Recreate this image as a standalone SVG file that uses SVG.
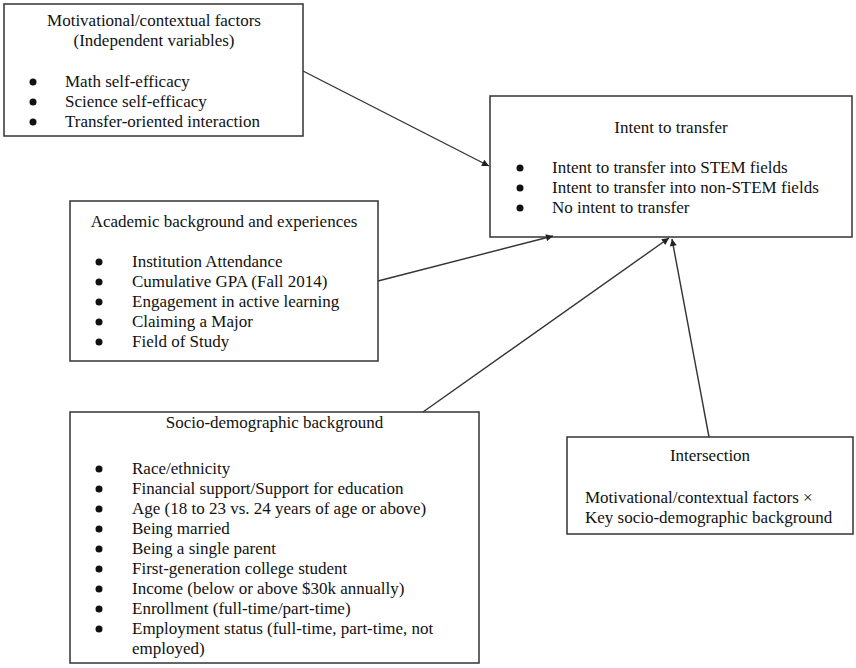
<svg xmlns="http://www.w3.org/2000/svg" width="856" height="668" viewBox="0 0 856 668">
<style>
.box{fill:#fff;stroke:#333;stroke-width:1.5}
text{font-family:"Liberation Serif","Times New Roman",serif;font-size:17px;fill:#111}
.c{text-anchor:middle}
.dot{fill:#111}
.conn{stroke:#333;stroke-width:1.4;fill:none;marker-end:url(#ah)}
</style>
<defs>
<marker id="ah" viewBox="0 0 10 10" refX="10" refY="5" markerWidth="9" markerHeight="7" markerUnits="userSpaceOnUse" orient="auto">
<path d="M0,0 L10,5 L0,10 z" fill="#222"/>
</marker>
</defs>
<rect width="856" height="668" fill="#fff"/>
<g id="motivational">
<rect class="box" x="4" y="4" width="299" height="132"/>
<text class="c" x="154" y="26">Motivational/contextual factors</text>
<text class="c" x="154" y="46">(Independent variables)</text>
<circle class="dot" cx="33" cy="82" r="3.5"/><text x="65" y="87">Math self-efficacy</text>
<circle class="dot" cx="33" cy="102" r="3.5"/><text x="65" y="107">Science self-efficacy</text>
<circle class="dot" cx="33" cy="122" r="3.5"/><text x="65" y="127">Transfer-oriented interaction</text>
</g>
<g id="intent">
<rect class="box" x="490" y="96" width="362" height="141"/>
<text class="c" x="671" y="133">Intent to transfer</text>
<circle class="dot" cx="520" cy="168" r="3.5"/><text x="552" y="173">Intent to transfer into STEM fields</text>
<circle class="dot" cx="520" cy="188" r="3.5"/><text x="552" y="193">Intent to transfer into non-STEM fields</text>
<circle class="dot" cx="520" cy="208" r="3.5"/><text x="552" y="213">No intent to transfer</text>
</g>
<g id="academic">
<rect class="box" x="70" y="201" width="308" height="160"/>
<text class="c" x="224" y="227">Academic background and experiences</text>
<circle class="dot" cx="99" cy="262" r="3.5"/><text x="132" y="267">Institution Attendance</text>
<circle class="dot" cx="99" cy="282" r="3.5"/><text x="132" y="287">Cumulative GPA (Fall 2014)</text>
<circle class="dot" cx="99" cy="302" r="3.5"/><text x="132" y="307">Engagement in active learning</text>
<circle class="dot" cx="99" cy="322" r="3.5"/><text x="132" y="327">Claiming a Major</text>
<circle class="dot" cx="99" cy="342" r="3.5"/><text x="132" y="347">Field of Study</text>
</g>
<g id="socio">
<rect class="box" x="70" y="412" width="409" height="251"/>
<text class="c" x="274.5" y="428">Socio-demographic background</text>
<circle class="dot" cx="99" cy="469" r="3.5"/><text x="132" y="474">Race/ethnicity</text>
<circle class="dot" cx="99" cy="489" r="3.5"/><text x="132" y="494">Financial support/Support for education</text>
<circle class="dot" cx="99" cy="509" r="3.5"/><text x="132" y="514">Age (18 to 23 vs. 24 years of age or above)</text>
<circle class="dot" cx="99" cy="529" r="3.5"/><text x="132" y="534">Being married</text>
<circle class="dot" cx="99" cy="549" r="3.5"/><text x="132" y="554">Being a single parent</text>
<circle class="dot" cx="99" cy="569" r="3.5"/><text x="132" y="574">First-generation college student</text>
<circle class="dot" cx="99" cy="589" r="3.5"/><text x="132" y="594">Income (below or above $30k annually)</text>
<circle class="dot" cx="99" cy="609" r="3.5"/><text x="132" y="614">Enrollment (full-time/part-time)</text>
<circle class="dot" cx="99" cy="629" r="3.5"/><text x="132" y="634">Employment status (full-time, part-time, not</text>
<text x="132" y="654">employed)</text>
</g>
<g id="intersection">
<rect class="box" x="567" y="437" width="286" height="97"/>
<text class="c" x="710" y="461">Intersection</text>
<text x="585" y="503">Motivational/contextual factors ×</text>
<text x="585" y="523">Key socio-demographic background</text>
</g>
<g id="connectors">
<line class="conn" x1="303" y1="71" x2="489" y2="166"/>
<line class="conn" x1="378" y1="281" x2="553" y2="236"/>
<line class="conn" x1="423" y1="412" x2="669" y2="238"/>
<line class="conn" x1="709" y1="437" x2="672" y2="239"/>
</g>
</svg>
